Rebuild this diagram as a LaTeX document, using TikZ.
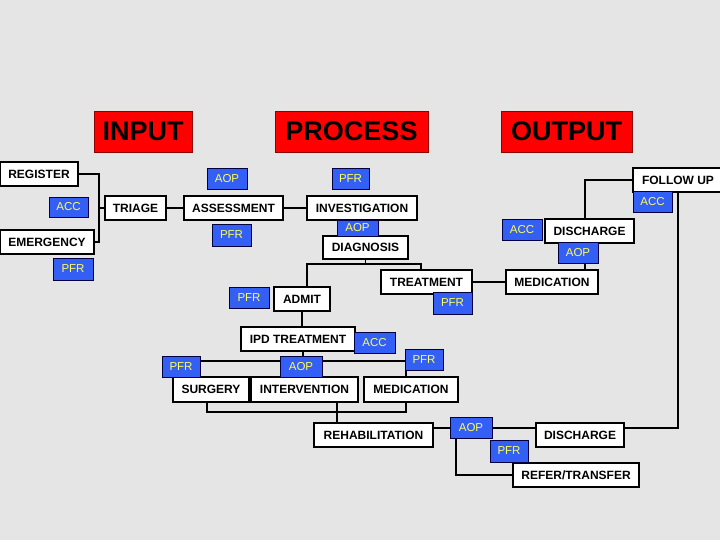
\documentclass[tikz,border=0pt]{standalone}
\usepackage{fontspec}
\setmainfont{Liberation Sans}
\usetikzlibrary{positioning}
\definecolor{paper}{RGB}{229,229,229}
\definecolor{tagblue}{RGB}{51,95,245}
\definecolor{tagtext}{RGB}{255,255,90}
\definecolor{headred}{RGB}{255,0,0}
\begin{document}
\begin{tikzpicture}[x=1pt,y=-1pt,
  box/.style={draw=black,line width=1.6pt,fill=white,inner sep=0pt,minimum height=24pt,font=\fontsize{12}{13}\selectfont\bfseries},
  head/.style={draw=headred!55!black,line width=0.8pt,fill=headred,inner sep=0pt,minimum height=41pt,font=\fontsize{27}{30}\selectfont\bfseries},
  tag/.style={draw=blue!25!black,line width=0.8pt,fill=tagblue,text=tagtext,inner sep=0pt,minimum width=39pt,minimum height=21pt,font=\fontsize{11.5}{12}\selectfont},
  link/.style={line width=1.6pt,draw=black}]
\useasboundingbox (0,0) rectangle (720,540);
\clip (0,0) rectangle (720,540);
\fill[paper] (0,0) rectangle (720,540);
\node[head,minimum width=98pt] (hin) at (143,131.5) {INPUT};
\node[head,minimum width=153pt] (hpr) at (351.5,131.5) {PROCESS};
\node[head,minimum width=131pt] (hout) at (566.5,131.5) {OUTPUT};
\node[box,minimum width=78pt] (reg) at (39,174) {REGISTER};
\node[box,minimum width=94pt] (emer) at (47,242) {EMERGENCY};
\node[box,minimum width=61pt] (triage) at (135.5,208) {TRIAGE};
\node[box,minimum width=99pt] (assess) at (233.5,208) {ASSESSMENT};
\node[box,minimum width=110pt] (invest) at (362,208) {INVESTIGATION};
\node[box,minimum width=85pt,minimum height=23pt] (diag) at (365.5,247.5) {DIAGNOSIS};
\node[box,minimum width=91pt] (treat) at (426.5,282) {TREATMENT};
\node[box,minimum width=92pt] (medA) at (552,282) {MEDICATION};
\node[box,minimum width=89pt] (discA) at (589.5,231) {DISCHARGE};
\node[box,minimum width=90pt] (follow) at (678,180) {FOLLOW UP};
\node[box,minimum width=56pt] (admit) at (302,299) {ADMIT};
\node[box,minimum width=114pt] (ipd) at (298,339) {IPD TREATMENT};
\node[box,minimum width=76pt,minimum height=25pt] (surg) at (211,389.5) {SURGERY};
\node[box,minimum width=107pt,minimum height=25pt] (interv) at (304.5,389.5) {INTERVENTION};
\node[box,minimum width=94pt,minimum height=25pt] (medB) at (411,389.5) {MEDICATION};
\node[box,minimum width=119pt] (rehab) at (373.5,435) {REHABILITATION};
\node[box,minimum width=88pt] (discB) at (580,435) {DISCHARGE};
\node[box,minimum width=126pt] (refer) at (576,475) {REFER/TRANSFER};
\coordinate (jin) at (99,208);
\coordinate (jdg) at (363,264);
\coordinate (jdx) at (585,179);
\coordinate (jfr) at (678,428);
\coordinate (jrf) at (456,428);
\coordinate (jip) at (303,361);
\coordinate (jsl) at (200,361);
\coordinate (jsr) at (406,361);
\coordinate (jbm) at (337,412);
\draw[link] (reg.east) -| (jin) |- (emer.east);
\draw[link] (jin) -- (triage.west);
\draw[link] (triage) -- (assess);
\draw[link] (assess) -- (invest);
\draw[link] (invest.south) -- (invest.south |- diag.north);
\draw[link] (diag.south) -- (diag.south |- jdg);
\draw[link] ([xshift=5pt]admit.north) |- (jdg) -| ([xshift=-5.5pt]treat.north);
\draw[link] (treat) -- (medA);
\draw[link] (medA.north -| jdx) -- (discA.south -| jdx);
\draw[link] (discA.north -| jdx) |- (follow.west);
\draw[link] (follow.south) |- (discB.east |- jfr);
\draw[link] (rehab.east |- jfr) -- (discB.west |- jfr);
\draw[link] (jrf) |- (refer.west);
\draw[link] (admit.south) -- (admit.south |- ipd.north);
\draw[link] (jip |- ipd.south) -- (jip);
\draw[link] (surg.north -| jsl) |- (jsr) -- (medB.north -| jsr);
\draw[link] (interv.north) -- (interv.north |- jip);
\draw[link] ([xshift=-4pt]surg.south) |- ([xshift=-5pt]medB.south |- jbm) -- ([xshift=-5pt]medB.south);
\draw[link] (interv.south -| jbm) -- (rehab.north -| jbm);
\node[tag,minimum width=40pt] (aopA) at (227,178.5) {AOP};
\node[tag,minimum height=22pt] (pfrA) at (231.5,235) {PFR};
\node[tag,minimum height=20pt] (accR) at (68.5,207) {ACC};
\node[tag,minimum width=40pt,minimum height=22pt] (pfrE) at (73,269) {PFR};
\node[tag,minimum width=37pt] (pfrI) at (350.5,178.5) {PFR};
\node[tag,minimum width=41pt,minimum height=16pt] (aopD) at (357.5,228) {AOP};
\node[tag,minimum width=40pt] (accD) at (522,229.5) {ACC};
\node[tag,minimum width=40pt] (aopM) at (578,252.5) {AOP};
\node[tag] (accF) at (652.5,201.5) {ACC};
\node[tag,minimum height=22pt] (pfrT) at (452.5,303) {PFR};
\node[tag,minimum width=40pt] (pfrD) at (249,297.5) {PFR};
\node[tag,minimum width=41pt] (accP) at (374.5,342.5) {ACC};
\node[tag,minimum width=38pt] (pfrS) at (181,366.5) {PFR};
\node[tag,minimum width=42pt] (aopV) at (301,366.5) {AOP};
\node[tag,minimum width=38pt] (pfrM) at (424,359.5) {PFR};
\node[tag,minimum width=42pt] (aopR) at (471,427.5) {AOP};
\node[tag,minimum width=38pt,minimum height=22pt] (pfrR) at (509,451) {PFR};
\end{tikzpicture}
\end{document}
